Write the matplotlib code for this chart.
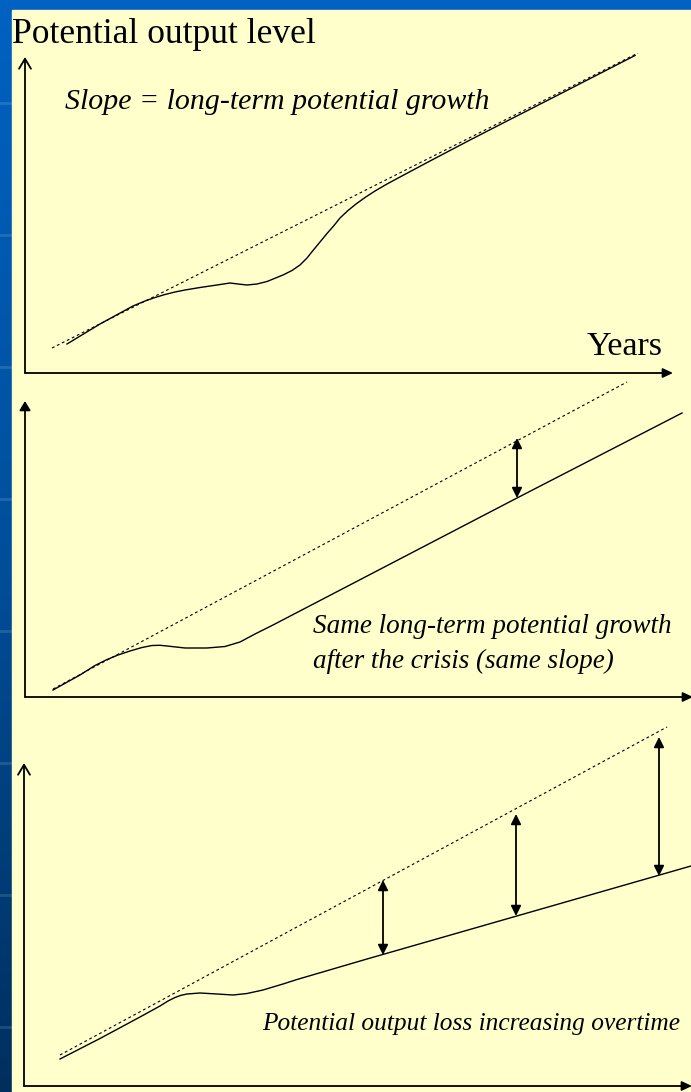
import numpy as np
import matplotlib.pyplot as plt
from matplotlib.patches import Rectangle
from matplotlib.colors import LinearSegmentedColormap

W, H = 691, 1092

# values: t = time (years, arbitrary units), y = output level
# panel 1: temporary slowdown, back on the old trend
p1_trend_t = [2.7, 61.3]
p1_trend_y = [2.5, 32.0]
p1_pot_t = [4.2, 7.5, 10.8, 12.0, 13.0, 14.0, 15.0, 16.0, 17.5, 19.2, 20.5, 21.3,
            22.2, 23.2, 24.2, 25.8, 26.7, 27.5, 28.2, 28.8, 29.5, 30.2, 30.9,
            31.5, 32.3, 33.1, 34.0, 35.0, 36.2, 37.5, 40.5, 44.5, 48.5, 53.5, 61.0]
p1_pot_y = [2.9, 4.9, 6.7, 7.2, 7.55, 7.85, 8.1, 8.3, 8.55, 8.8, 9.0, 8.9,
            8.8, 8.9, 9.15, 9.8, 10.25, 10.8, 11.5, 12.25, 13.1, 13.95, 14.75,
            15.5, 16.25, 16.9, 17.55, 18.2, 18.9, 19.6, 21.2, 23.3, 25.35, 27.9, 31.75]

# panel 2: level shift, same slope
p2_trend_t = [2.8, 60.2]
p2_trend_y = [0.8, 31.5]
p2_pot_t = [2.8, 5.5, 7.0, 8.1, 9.3, 10.5, 11.7, 12.7, 13.5, 14.2, 16.0, 18.2,
            20.0, 21.5, 23.0, 24.8, 49.2, 65.7]
p2_pot_y = [0.7, 2.2, 3.15, 3.7, 4.2, 4.6, 4.95, 5.15, 5.17, 5.1, 4.9, 4.9,
            5.05, 5.5, 6.3, 7.2, 19.9, 28.4]
p2_gap_t = [49.2]
p2_gap_lo = [19.9]
p2_gap_hi = [25.9]

# panel 3: lower slope, growing loss
p3_trend_t = [3.6, 64.3]
p3_trend_y = [3.1, 35.9]
p3_pot_t = [3.6, 7.6, 11.6, 13.6, 14.4, 15.1, 15.7, 16.3, 17.6, 19.3, 20.9, 22.3,
            23.9, 25.9, 27.3, 34.3, 66.7]
p3_pot_y = [2.7, 4.75, 6.9, 8.0, 8.5, 8.85, 9.07, 9.2, 9.3, 9.2, 9.1, 9.25,
            9.6, 10.2, 10.65, 12.7, 22.0]
p3_gap_t = [35.9, 49.2, 63.5]
p3_gap_lo = [13.1, 17.0, 21.0]
p3_gap_hi = [20.6, 27.2, 34.9]

fig = plt.figure(figsize=(W / 100, H / 100), dpi=100)

# slide background
bg = fig.add_axes([0, 0, 1, 1])
bg.axis('off')
cmap = LinearSegmentedColormap.from_list('slide', ['#0062C2', '#004F9C', '#002F5E'])
bg.imshow(np.linspace(0, 1, 256).reshape(-1, 1), aspect='auto', cmap=cmap,
          extent=[0, W, H, 0])
for yy in np.arange(103, H, 132):
    bg.plot([0, 12], [yy, yy], color='white', alpha=0.13, lw=2)
bg.add_patch(Rectangle((12, 10), W - 12, H - 10, color='#FFFFCC'))
bg.set_xlim(0, W)
bg.set_ylim(H, 0)


def panel(ox, oy, ymax):
    xmax = (W - ox) / 10
    ax = fig.add_axes([ox / W, (H - oy) / H, xmax * 10 / W, ymax * 10 / H])
    ax.set_xlim(0, xmax)
    ax.set_ylim(0, ymax)
    ax.axis('off')
    return ax


def axis_arrow(ax, x0, y0, x1, y1, style):
    ax.annotate('', xy=(x1, y1), xytext=(x0, y0),
                arrowprops=dict(arrowstyle=style, lw=1.3, color='black',
                                shrinkA=0, shrinkB=0, mutation_scale=10),
                annotation_clip=False)


def gaps(ax, ts, los, his):
    for t, lo, hi in zip(ts, los, his):
        ax.annotate('', xy=(t, hi), xytext=(t, lo),
                    arrowprops=dict(arrowstyle=gap_head, lw=1.3, color='black',
                                    shrinkA=0, shrinkB=0, mutation_scale=10))


open_head = '->,head_length=0.72,head_width=0.43'
full_head = '-|>,head_length=0.6,head_width=0.28'
gap_head = '<|-|>,head_length=0.6,head_width=0.3'
dash = (0, (2.5, 2.5))

# ---- panel 1
ax1 = panel(25, 373, 32)
axis_arrow(ax1, 0, 0, 0, 31.6, open_head)
axis_arrow(ax1, 0, 0, 64.8, 0, full_head)
ax1.plot(p1_trend_t, p1_trend_y, color='black', lw=0.8, ls=dash)
ax1.plot(p1_pot_t, p1_pot_y, color='black', lw=1.0)

# ---- panel 2
ax2 = panel(25, 697, 32)
axis_arrow(ax2, 0, 0, 0, 29.6, '-|>,head_length=0.55,head_width=0.33')
axis_arrow(ax2, 0, 0, 66.8, 0, full_head)
ax2.plot(p2_trend_t, p2_trend_y, color='black', lw=0.8, ls=dash)
ax2.plot(p2_pot_t, p2_pot_y, color='black', lw=1.0)
gaps(ax2, p2_gap_t, p2_gap_lo, p2_gap_hi)

# ---- panel 3
ax3 = panel(24, 1086, 36)
axis_arrow(ax3, 0, 0, 0, 32.3, open_head)
axis_arrow(ax3, 0, 0, 66.8, 0, full_head)
ax3.plot(p3_trend_t, p3_trend_y, color='black', lw=0.8, ls=dash)
ax3.plot(p3_pot_t, p3_pot_y, color='black', lw=1.0)
gaps(ax3, p3_gap_t, p3_gap_lo, p3_gap_hi)

# ---- texts (pixel positions of the left end / baseline)
serif = ['Liberation Serif', 'DejaVu Serif']


def label(x, y, s, size, style='normal'):
    fig.text(x / W, 1 - y / H, s, fontsize=size, family=serif, style=style,
             ha='left', va='baseline', color='black')


label(12, 43, 'Potential output level', 25.6)
label(65, 109, 'Slope = long-term potential growth', 21.5, 'italic')
label(587, 355, 'Years', 24.5)
label(313, 633, 'Same long-term potential growth', 19.5, 'italic')
label(313, 668, 'after the crisis (same slope)', 19.5, 'italic')
label(262, 1030, 'Potential output loss increasing overtime', 18.3, 'italic')

fig.savefig('out.png', dpi=100)
